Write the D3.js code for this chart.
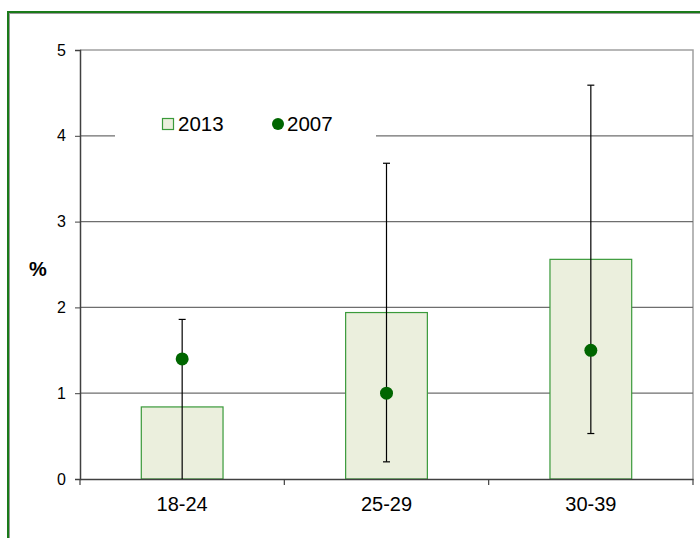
<!DOCTYPE html>
<html>
<head>
<meta charset="utf-8">
<script src="https://cdn.jsdelivr.net/npm/d3@7"></script>
<style>
  body { margin: 0; background: #fff; }
  text { font-family: "Liberation Sans", Arial, sans-serif; fill: #000; }
</style>
</head>
<body>
<div id="chart"></div>
<script>
"use strict";

// data
var ageGroups = ["18-24", "25-29", "30-39"];
var values2013 = [0.84, 1.94, 2.56];
var values2007 = [1.40, 1.00, 1.50];
var errLow = [0.0, 0.20, 0.53];
var errHigh = [1.86, 3.68, 4.59];
var yTicks = [0, 1, 2, 3, 4, 5];
var legendLabels = ["2013", "2007"];

var W = 700, H = 538;
var margin = {top: 50, right: 7, bottom: 59, left: 80};
var x0 = margin.left, x1 = W - margin.right;
var y0 = H - margin.bottom, y1 = margin.top;

var barFill = "#ebefdd", barStroke = "#3a9a3a", dotColor = "#006600";

var svg = d3.select("#chart").append("svg")
    .attr("width", W)
    .attr("height", H);

// outer frame (runs off the right and bottom edge)
svg.append("rect")
    .attr("x", 8).attr("y", 12)
    .attr("width", 760).attr("height", 600)
    .attr("fill", "none")
    .attr("stroke", "#1a7a1a")
    .attr("stroke-width", 2);
svg.append("rect")
    .attr("x", 9.5).attr("y", 13.5)
    .attr("width", 760).attr("height", 600)
    .attr("fill", "none")
    .attr("stroke", "#9a9a9a")
    .attr("stroke-width", 1);

// scales
var x = d3.scaleBand()
    .domain(ageGroups)
    .range([x0, x1])
    .paddingInner(0.6)
    .paddingOuter(0.3);

var y = d3.scaleLinear()
    .domain([0, 5])
    .range([y0, y1]);

// plot area border (top and right)
svg.append("path")
    .attr("d", "M" + x0 + "," + y(5) + "H" + x1 + "V" + y0)
    .attr("fill", "none")
    .attr("stroke", "#a0a0a0")
    .attr("stroke-width", 1.5);

// gridlines
svg.append("g")
    .selectAll("line")
    .data(yTicks.filter(function(d) { return d > 0 && d < 5; }))
    .enter().append("line")
    .attr("x1", x0).attr("x2", x1)
    .attr("y1", function(d) { return y(d); })
    .attr("y2", function(d) { return y(d); })
    .attr("stroke", "#6e6e6e")
    .attr("stroke-width", 1.2);

// y axis
var yAxis = svg.append("g")
    .attr("transform", "translate(" + x0 + ",0)")
    .call(d3.axisLeft(y).tickValues(yTicks).tickFormat(d3.format("d"))
        .tickSize(5).tickPadding(9));
yAxis.select(".domain").attr("stroke", "#404040").attr("stroke-width", 1.5);
yAxis.selectAll(".tick line").attr("stroke", "#404040");
yAxis.selectAll(".tick text")
    .style("font-size", "16px")
    .style("font-family", "Liberation Sans, Arial, sans-serif")
    .attr("fill", "#000");

svg.append("text")
    .attr("x", 38)
    .attr("y", 276)
    .attr("text-anchor", "middle")
    .style("font-size", "20px")
    .style("font-weight", "bold")
    .text("%");

// legend background hides the gridline at 4
svg.append("rect")
    .attr("x", 115).attr("y", 106)
    .attr("width", 261).attr("height", 36)
    .attr("fill", "#fff");

// bars 2013
svg.append("g")
    .selectAll("rect")
    .data(values2013)
    .enter().append("rect")
    .attr("x", function(d, i) { return x(ageGroups[i]); })
    .attr("y", function(d) { return y(d); })
    .attr("width", x.bandwidth())
    .attr("height", function(d) { return y(0) - y(d); })
    .attr("fill", barFill)
    .attr("stroke", barStroke)
    .attr("stroke-width", 1.2);

// x axis
var xAxis = svg.append("g")
    .attr("transform", "translate(0," + y0 + ")")
    .call(d3.axisBottom(x).tickSize(0).tickPadding(18));
xAxis.select(".domain").attr("stroke", "#404040").attr("stroke-width", 1.5);
xAxis.selectAll(".tick text")
    .style("font-size", "20px")
    .style("font-family", "Liberation Sans, Arial, sans-serif")
    .attr("fill", "#000");

// tick marks on the category boundaries
svg.append("g")
    .selectAll("line")
    .data(d3.range(ageGroups.length + 1))
    .enter().append("line")
    .attr("x1", function(i) { return x0 + i * x.step(); })
    .attr("x2", function(i) { return x0 + i * x.step(); })
    .attr("y1", y0)
    .attr("y2", y0 + 6)
    .attr("stroke", "#404040")
    .attr("stroke-width", 1.2);

// error bars
var cx = function(i) { return x(ageGroups[i]) + x.bandwidth() / 2; };
var eb = svg.append("g").attr("stroke", "#000").attr("stroke-width", 1.2);
ageGroups.forEach(function(g, i) {
    eb.append("line")
        .attr("x1", cx(i)).attr("x2", cx(i))
        .attr("y1", y(errLow[i])).attr("y2", y(errHigh[i]));
    [errLow[i], errHigh[i]].forEach(function(v) {
        if (v <= 0) return;
        eb.append("line")
            .attr("x1", cx(i) - 3.5).attr("x2", cx(i) + 3.5)
            .attr("y1", y(v)).attr("y2", y(v));
    });
});

// points 2007
svg.append("g")
    .selectAll("circle")
    .data(values2007)
    .enter().append("circle")
    .attr("cx", function(d, i) { return cx(i); })
    .attr("cy", function(d) { return y(d); })
    .attr("r", 6.5)
    .attr("fill", dotColor);

// legend
var lg = svg.append("g");
lg.append("rect")
    .attr("x", 162.5).attr("y", 118.5)
    .attr("width", 11).attr("height", 11)
    .attr("fill", barFill)
    .attr("stroke", barStroke)
    .attr("stroke-width", 1.2);
lg.append("text")
    .attr("x", 178).attr("y", 131)
    .style("font-size", "20.5px")
    .text(legendLabels[0]);
lg.append("circle")
    .attr("cx", 278).attr("cy", 124)
    .attr("r", 6)
    .attr("fill", dotColor);
lg.append("text")
    .attr("x", 287).attr("y", 131)
    .style("font-size", "20.5px")
    .text(legendLabels[1]);
</script>
</body>
</html>
